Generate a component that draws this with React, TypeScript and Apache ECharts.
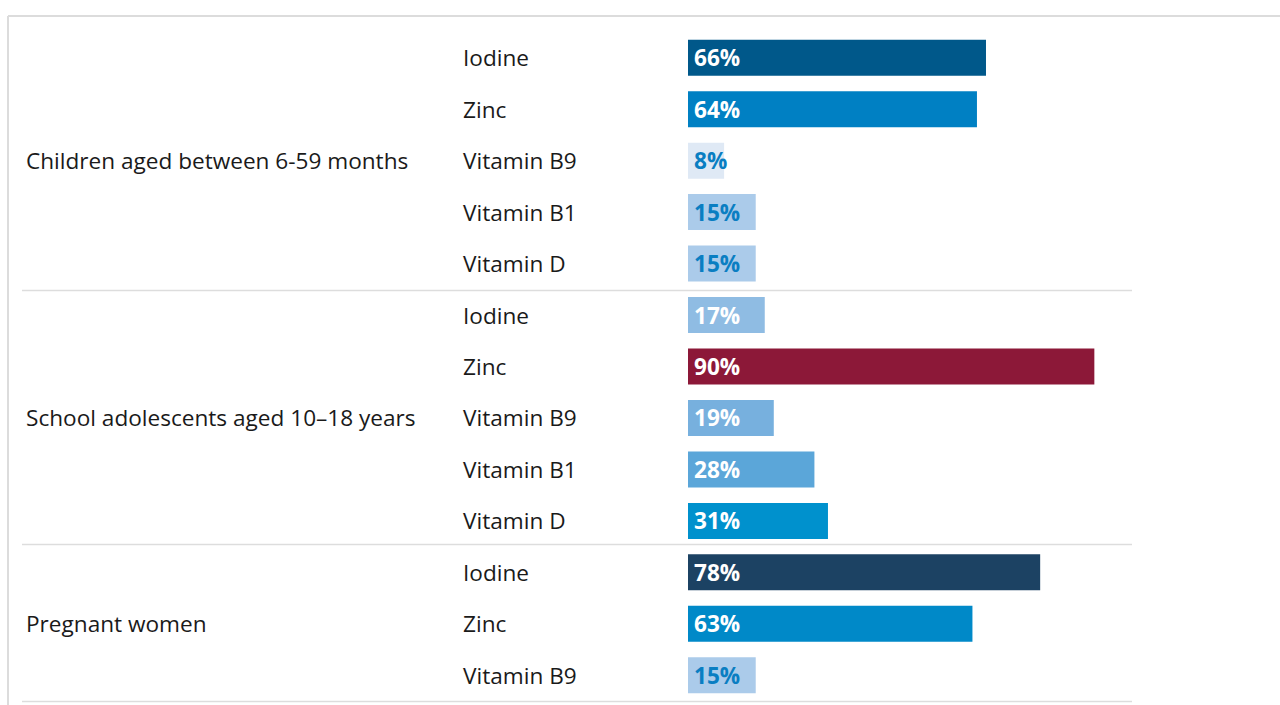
import React, { useEffect, useRef } from "react";
import * as echarts from "echarts";

const groupNames = [
  "Children aged between 6-59 months",
  "School adolescents aged 10–18 years",
  "Pregnant women",
];
const groupSizes = [5, 5, 3];
const nutrients = [
  "Iodine", "Zinc", "Vitamin B9", "Vitamin B1", "Vitamin D",
  "Iodine", "Zinc", "Vitamin B9", "Vitamin B1", "Vitamin D",
  "Iodine", "Zinc", "Vitamin B9",
];
const values = [66, 64, 8, 15, 15, 17, 90, 19, 28, 31, 78, 63, 15];
const barColors = [
  "#00588a", "#0080c3", "#dfe9f5", "#abcbea", "#abcbea",
  "#8fbce3", "#8c1838", "#77b0de", "#5ba6d9", "#0091cd",
  "#1c4263", "#0089c8", "#abcbea",
];
const labelColors = [
  "#ffffff", "#ffffff", "#0a7ec2", "#0a7ec2", "#0a7ec2",
  "#ffffff", "#ffffff", "#ffffff", "#ffffff", "#ffffff",
  "#ffffff", "#ffffff", "#0a7ec2",
];

export default function App() {
  const ref = useRef<HTMLDivElement>(null);
  useEffect(() => {
    if (!ref.current) return;
    const chart = echarts.init(ref.current, null, { renderer: "svg" });
    const rowIdx = nutrients.map((_, i) => String(i));
    const groupLabelAt: Record<number, string> = {};
    let start = 0;
    groupSizes.forEach((n, g) => {
      groupLabelAt[start + Math.floor(n / 2)] = groupNames[g];
      start += n;
    });
    const font = "Open Sans";
    const fs = 22.6;
    const lineStyle = { stroke: "#dddddd", lineWidth: 1.5 };
    chart.setOption({
      animation: false,
      grid: { left: 688, top: 32, width: 451.5, height: 669, containLabel: false },
      xAxis: { type: "value", min: 0, max: 100, show: false },
      yAxis: [
        {
          type: "category",
          data: rowIdx,
          inverse: true,
          position: "left",
          axisLine: { show: false },
          axisTick: { show: false },
          splitLine: { show: false },
          axisLabel: {
            align: "left",
            margin: 225,
            color: "#1a1a1a",
            fontSize: fs,
            fontFamily: font,
            padding: [8, 0, 0, 0],
            formatter: (v: string) => nutrients[Number(v)],
          },
        },
        {
          type: "category",
          data: rowIdx,
          inverse: true,
          position: "left",
          axisLine: { show: false },
          axisTick: { show: false },
          splitLine: { show: false },
          axisLabel: {
            align: "left",
            margin: 662,
            color: "#1a1a1a",
            fontSize: fs,
            fontFamily: font,
            interval: 0,
            padding: [8, 0, 0, 0],
            formatter: (v: string) => groupLabelAt[Number(v)] || "",
          },
        },
      ],
      series: [
        {
          type: "bar",
          yAxisIndex: 0,
          barWidth: 36,
          data: values.map((v, i) => ({
            value: v,
            itemStyle: { color: barColors[i] },
            label: { color: labelColors[i] },
          })),
          label: {
            show: true,
            position: "insideLeft",
            distance: 6,
            fontSize: fs,
            fontWeight: "bold",
            fontFamily: font,
            padding: [6, 0, 0, 0],
            formatter: "{c}%",
          },
        },
      ],
      graphic: [
        { type: "line", shape: { x1: 8, y1: 16, x2: 1280, y2: 16 }, style: { stroke: "#dcdcdc", lineWidth: 2 } },
        { type: "line", shape: { x1: 8, y1: 16, x2: 8, y2: 705 }, style: { stroke: "#dcdcdc", lineWidth: 2 } },
        { type: "line", shape: { x1: 22, y1: 290.5, x2: 1132, y2: 290.5 }, style: lineStyle },
        { type: "line", shape: { x1: 22, y1: 544.5, x2: 1132, y2: 544.5 }, style: lineStyle },
        { type: "line", shape: { x1: 22, y1: 701.5, x2: 1132, y2: 701.5 }, style: lineStyle },
      ],
    });
    return () => chart.dispose();
  }, []);
  return (
    <div
      ref={ref}
      style={{ position: "fixed", left: 0, top: 0, width: 1280, height: 705, background: "#ffffff" }}
    />
  );
}
